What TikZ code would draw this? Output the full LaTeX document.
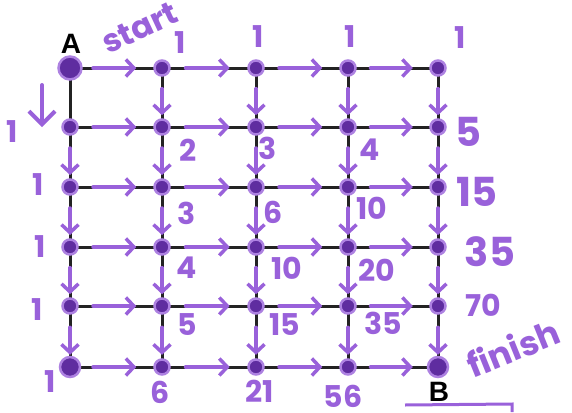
\documentclass[tikz,border=0pt]{standalone}
\usepackage{fontspec}
\newfontfamily\handfont{Poppins}
\newfontfamily\boldfont{Liberation Sans}
\usepackage{tikz}
\usetikzlibrary{arrows.meta, positioning, calc, backgrounds}
\definecolor{marker}{RGB}{153,97,218}
\definecolor{dotpurple}{RGB}{95,45,160}
\definecolor{inkgray}{RGB}{35,35,35}
\tikzset{
  gridpt/.style={circle, fill=dotpurple, draw=marker!80, line width=2.5pt,
                 inner sep=0pt, minimum size=15pt},
  bigpt/.style={gridpt, minimum size=23pt},
  gridline/.style={draw=inkgray, line width=3pt},
  parrow/.style={-{Straight Barb[length=8pt, width=17pt]}, draw=marker,
                 line width=3.5pt, line cap=round},
  numlabel/.style={text=marker, inner sep=0pt,
                   font=\handfont\bfseries\fontsize{30}{30}\selectfont},
  biglabel/.style={numlabel, font=\handfont\bfseries\fontsize{40}{40}\selectfont},
  wordlabel/.style={numlabel, font=\handfont\bfseries\fontsize{32}{32}\selectfont},
  endlabel/.style={text=black, inner sep=0pt,
                   font=\boldfont\bfseries\fontsize{28}{28}\selectfont},
}
\begin{document}
\begin{tikzpicture}[x=1pt, y=-1pt]
  \useasboundingbox (0,0) rectangle (572,412);

  % grid points
  \foreach \c/\x in {1/70,2/162,3/256,4/348,5/438}
    \foreach \r/\y in {1/68,2/127,3/187,4/247,5/306,6/367}
      \node[gridpt] (p-\c-\r) at (\x,\y) {};
  \node[bigpt] (start) at (p-1-1.center) {};
  \node[bigpt, minimum size=20pt] (corner) at (p-1-6.center) {};
  \node[bigpt, minimum size=20pt] (finish) at (p-5-6.center) {};

  % black lines
  \begin{scope}[on background layer]
    \foreach \r in {1,...,6}
      \draw[gridline] (p-1-\r.center) -- (p-5-\r.center);
    \foreach \c in {1,...,5}
      \draw[gridline] (p-\c-1.center) -- (p-\c-6.center);
  \end{scope}

  % purple arrows
  \foreach \r in {1,...,6}
    \foreach \c [count=\n from 2] in {1,...,4}
      \draw[parrow] ($(p-\c-\r.center)!0.25!(p-\n-\r.center)$) --
        ($(p-\c-\r.center)!0.72!(p-\n-\r.center)$);
  \foreach \c in {2,...,5}
    \foreach \r [count=\n from 2] in {1,...,5}
      \draw[parrow] ($(p-\c-\r.center)!0.35!(p-\c-\n.center)$) --
        ($(p-\c-\r.center)!0.8!(p-\c-\n.center)$);
  \foreach \r [count=\n from 3] in {2,...,5}
    \draw[parrow] ($(p-1-\r.center)!0.35!(p-1-\n.center)$) --
      ($(p-1-\r.center)!0.8!(p-1-\n.center)$);

  % the arrow beside the left column
  \coordinate (down-top) at (42,85);
  \coordinate (down-end) at (42,127);
  \draw[parrow, line width=4pt, -{Straight Barb[length=13pt, width=26pt]}]
    (down-top) -- (down-end);

  % A and B, start and finish
  \node[endlabel] (A) at (71,44) {A};
  \node[endlabel] (B) at (439,392) {B};
  \node[wordlabel, rotate=25] (start-txt) at (140,28) {start};
  \node[wordlabel, rotate=22, font=\handfont\bfseries\fontsize{34}{34}\selectfont]
    (finish-txt) at (513,348) {finish};

  % counts
  \foreach \t/\x/\y [count=\i] in {1/180/43, 1/258/37, 1/350/37, 1/460/38,
      1/12/132, 1/38/185, 1/40/247, 1/37/310, 1/50/382}
    \node[numlabel] (one-\i) at (\x,\y) {\t};
  \foreach \t/\x/\y [count=\i] in {2/188/150, 3/268/148, 4/370/150,
      3/187/213, 6/273/212, 10/372/208, 4/187/268, 10/287/268, 20/377/270,
      5/187/325, 15/285/325, 35/383/323, 6/160/392, 21/260/391, 56/343/396}
    \node[numlabel] (inner-\i) at (\x,\y) {\t};
  \foreach \t/\x/\y [count=\i] in {5/468/132, 15/477/192, 35/490/252}
    \node[biglabel] (edge-\i) at (\x,\y) {\t};
  \node[numlabel] (edge-4) at (483,305) {70};

  % bit of a box at the bottom
  \draw[draw=marker, line width=3pt] (405,405) -- (512,404) -- (512,412);
\end{tikzpicture}
\end{document}
